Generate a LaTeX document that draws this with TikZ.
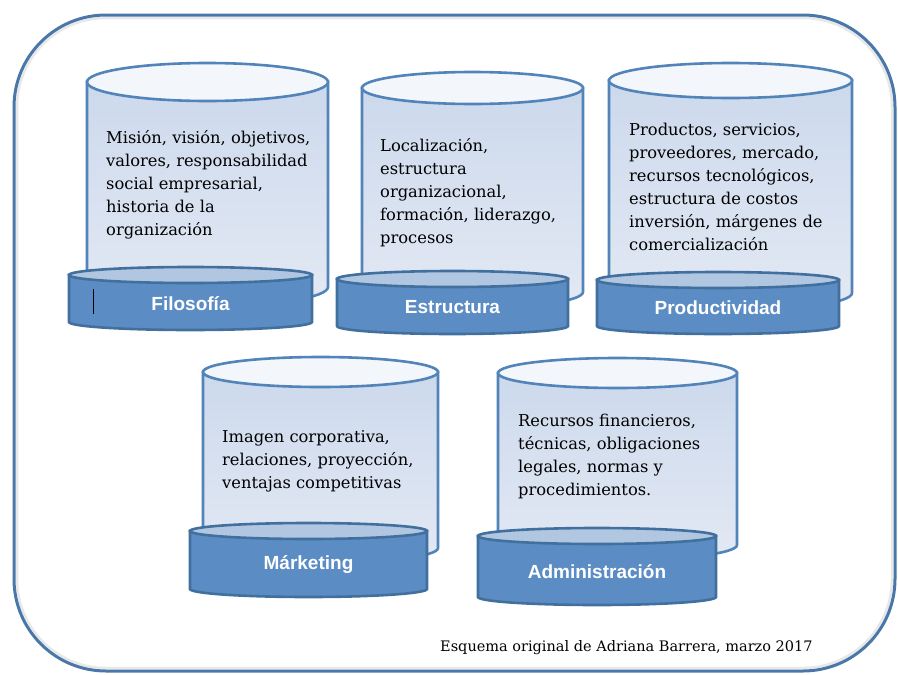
\documentclass[tikz,border=0pt]{standalone}
\usepackage{fontspec}
\setmainfont{DejaVu Serif}
\setsansfont{Liberation Sans}
\definecolor{rim}{HTML}{5283B9}
\definecolor{rimdark}{HTML}{41709F}
\definecolor{bodytop}{HTML}{CCD9EC}
\definecolor{bodybot}{HTML}{E3E9F4}
\definecolor{lidfill}{HTML}{F3F6FB}
\definecolor{diskfill}{HTML}{5B8DC4}
\definecolor{disklid}{HTML}{B1C6E0}
\definecolor{frameblue}{HTML}{4A77A9}
\tikzset{
  tank/.style={line width=2.6pt, draw=rim, top color=bodytop, bottom color=bodybot},
  lid/.style={line width=2.6pt, draw=rim, fill=lidfill},
  disk/.style={line width=2.6pt, draw=rimdark, fill=diskfill},
  disktop/.style={line width=2.6pt, draw=rimdark, fill=disklid},
  txt/.style={font=\fontsize{16.3}{23}\selectfont, anchor=north west, align=left, inner sep=0pt, text=black},
  tag/.style={font=\sffamily\bfseries\fontsize{19}{20}\selectfont, text=white, inner sep=0pt},
}
% tall tank: centre x, top y, bottom y, x radius, y radius
\newcommand{\tank}[5]{\draw[tank] (#1-#4,#2) -- (#1-#4,#3) arc[start angle=180, end angle=360, x radius=#4, y radius=#5] -- (#1+#4,#2) -- cycle;
  \draw[lid] (#1,#2) ellipse[x radius=#4, y radius=#5];}
% base disk: name, centre x, top y, bottom y, x radius, label
\newcommand{\disk}[6]{\draw[disk] (#2-#5,#3) -- (#2-#5,#4) arc[start angle=180, end angle=360, x radius=#5, y radius=8] -- (#2+#5,#3) -- cycle;
  \draw[disktop] (#2,#3) ellipse[x radius=#5, y radius=8];
  \node[tag] (#1) at (#2,{(#3+#4)/2-5}) {#6};}

\begin{document}
\begin{tikzpicture}[x=1pt, y=1pt]
\useasboundingbox (0,0) rectangle (898,-675);

% outer frame
\draw[line width=2.5pt, gray!18, rounded corners=89pt] (17,-18) rectangle (892,-668);
\draw[line width=3pt, frameblue, rounded corners=92pt] (14,-15) rectangle (895,-671);

% top row
\tank{207.5}{-82}{-287}{120.5}{19}
\disk{filo}{190.5}{-275}{-322}{121.5}{Filosofía}
\draw[line width=0.8pt] (93.5,-289) -- (93.5,-314);
\node[txt] (filotxt) at (106,-130) {Misión, visión, objetivos,\\valores, responsabilidad\\social empresarial,\\historia de la\\organización};

\tank{472.5}{-88}{-292}{110.5}{16}
\disk{estr}{452.5}{-279}{-326}{115.5}{Estructura}
\node[txt] (estrtxt) at (380,-138) {Localización,\\estructura\\organizacional,\\formación, liderazgo,\\procesos};

\tank{730.5}{-80.5}{-293}{121.5}{17.5}
\disk{prod}{718}{-280}{-326}{121}{Productividad}
\node[txt] (prodtxt) at (629,-123) {Productos, servicios,\\proveedores, mercado,\\recursos tecnológicos,\\estructura de costos\\inversión, márgenes de\\comercialización};

% bottom row
\tank{320.5}{-372}{-548}{117.5}{15}
\disk{mark}{308.5}{-531}{-589}{118.5}{Márketing}
\node[txt] (marktxt) at (222,-430) {Imagen corporativa,\\relaciones, proyección,\\ventajas competitivas};

\tank{617.5}{-373}{-545}{119.5}{15}
\disk{admi}{597}{-536}{-597}{119}{Administración}
\node[txt] (admitxt) at (518,-414) {Recursos financieros,\\técnicas, obligaciones\\legales, normas y\\procedimientos.};

\node[anchor=west, inner sep=0pt, font=\fontsize{14.5}{16}\selectfont] (autor) at (440,-648) {Esquema original de Adriana Barrera, marzo 2017};

\end{tikzpicture}
\end{document}
